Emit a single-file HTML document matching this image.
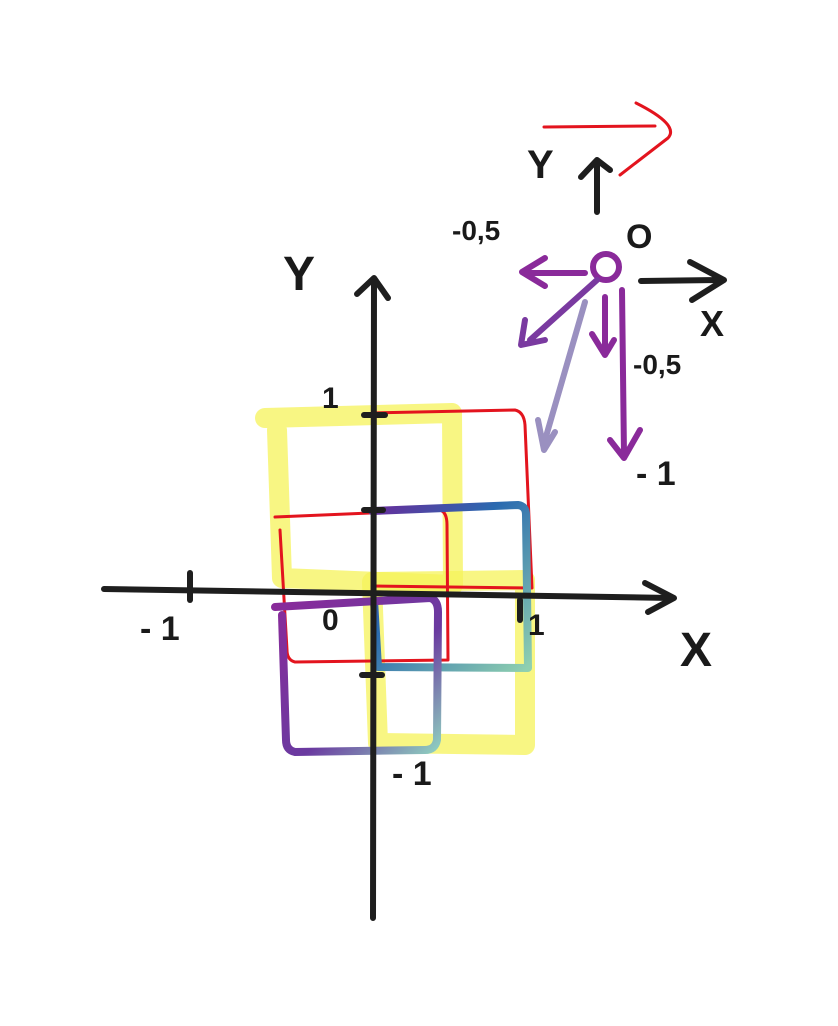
<!DOCTYPE html>
<html><head><meta charset="utf-8"><style>
html,body{margin:0;padding:0;background:#fff;width:838px;height:1026px;overflow:hidden}
text{font-family:"Liberation Sans",sans-serif;font-weight:bold;fill:#1a1a1a}
</style></head><body>
<svg width="838" height="1026" viewBox="0 0 838 1026" xmlns="http://www.w3.org/2000/svg">
<defs>
<linearGradient id="g1" x1="0" y1="0" x2="1" y2="1">
<stop offset="0" stop-color="#6a2a9a"/><stop offset="0.4" stop-color="#2a6ab0"/><stop offset="1" stop-color="#8fd0b0"/></linearGradient>
<linearGradient id="g2" x1="0" y1="0" x2="1" y2="1">
<stop offset="0" stop-color="#8a2a9a"/><stop offset="0.6" stop-color="#6a3aa0"/><stop offset="1" stop-color="#8fd0c0"/></linearGradient>
</defs>
<g fill="none" stroke-linecap="round" stroke-linejoin="round">
<g stroke="#f5f35a" stroke-opacity="0.75" stroke-width="20">
<path d="M265,418 L452,413 L453,585 L282,578 L277,430"/>
<path d="M372,582 L525,580 L525,745 L378,743 Z"/>
</g>
<g stroke="#e3141e" stroke-width="3">
<path d="M372,413 L515,410 Q524,412 525,425 L532,588 L372,586"/>
<path d="M275,517 L440,510 Q447,512 447,525 L448,660 L295,662 Q287,660 287,650 L280,530"/>
</g>
<path d="M372,511 L518,505 Q526,506 526,515 L528,668 L378,667 L374,600" stroke="url(#g1)" stroke-width="8"/>
<path d="M275,607 L430,598 Q438,600 438,612 L437,740 Q435,750 425,750 L295,752 Q286,750 286,740 L282,615" stroke="url(#g2)" stroke-width="8"/>
<g stroke="#1e1e1e" stroke-width="6">
<path d="M374,280 L373,918"/>
<path d="M357,294 L374,278 L388,298"/>
<path d="M104,589 L672,598"/>
<path d="M645,583 L674,598 L648,612"/>
<path d="M190,573 L190,600"/>
<path d="M364,415 L385,415"/>
<path d="M364,510 L383,510"/>
<path d="M362,675 L382,675"/>
<path d="M520,600 L520,620"/>
</g>
<g>
<path d="M544,127 L655,126" stroke="#e3141e" stroke-width="3"/>
<path d="M636,103 Q680,125 668,138 L620,175" stroke="#e3141e" stroke-width="3"/>
<path d="M597,212 L597,166 M581,177 L597,160 L610,170" stroke="#1e1e1e" stroke-width="6"/>
<path d="M641,281 L718,280 M690,262 L724,280 L692,300" stroke="#1e1e1e" stroke-width="6"/>
<circle cx="606" cy="267" r="13" stroke="#8a2a9a" stroke-width="6"/>
<path d="M585,273 L525,273 M545,258 L522,272 L545,286" stroke="#8a2a9a" stroke-width="6"/>
<path d="M597,280 L530,340 M525,320 L521,345 L545,340" stroke="#7a3aa0" stroke-width="6"/>
<path d="M585,302 L545,440 M538,420 L544,450 L555,432" stroke="#9a90c0" stroke-width="6"/>
<path d="M605,297 L605,350 M592,334 L605,355 L614,340" stroke="#8a2a9a" stroke-width="6"/>
<path d="M622,290 L624,455 M610,440 L624,458 L640,430" stroke="#8a2a9a" stroke-width="6"/>
</g>
</g>
<text x="283" y="290" font-size="48">Y</text>
<text x="680" y="666" font-size="48">X</text>
<text x="140" y="640" font-size="34">- 1</text>
<text x="322" y="630" font-size="30">0</text>
<text x="528" y="635" font-size="30">1</text>
<text x="322" y="408" font-size="30">1</text>
<text x="392" y="785" font-size="34">- 1</text>
<text x="527" y="178" font-size="40">Y</text>
<text x="700" y="336" font-size="36">X</text>
<text x="626" y="248" font-size="34">O</text>
<text x="452" y="240" font-size="28">-0,5</text>
<text x="633" y="374" font-size="28">-0,5</text>
<text x="636" y="485" font-size="34">- 1</text>
</svg>
</body></html>
